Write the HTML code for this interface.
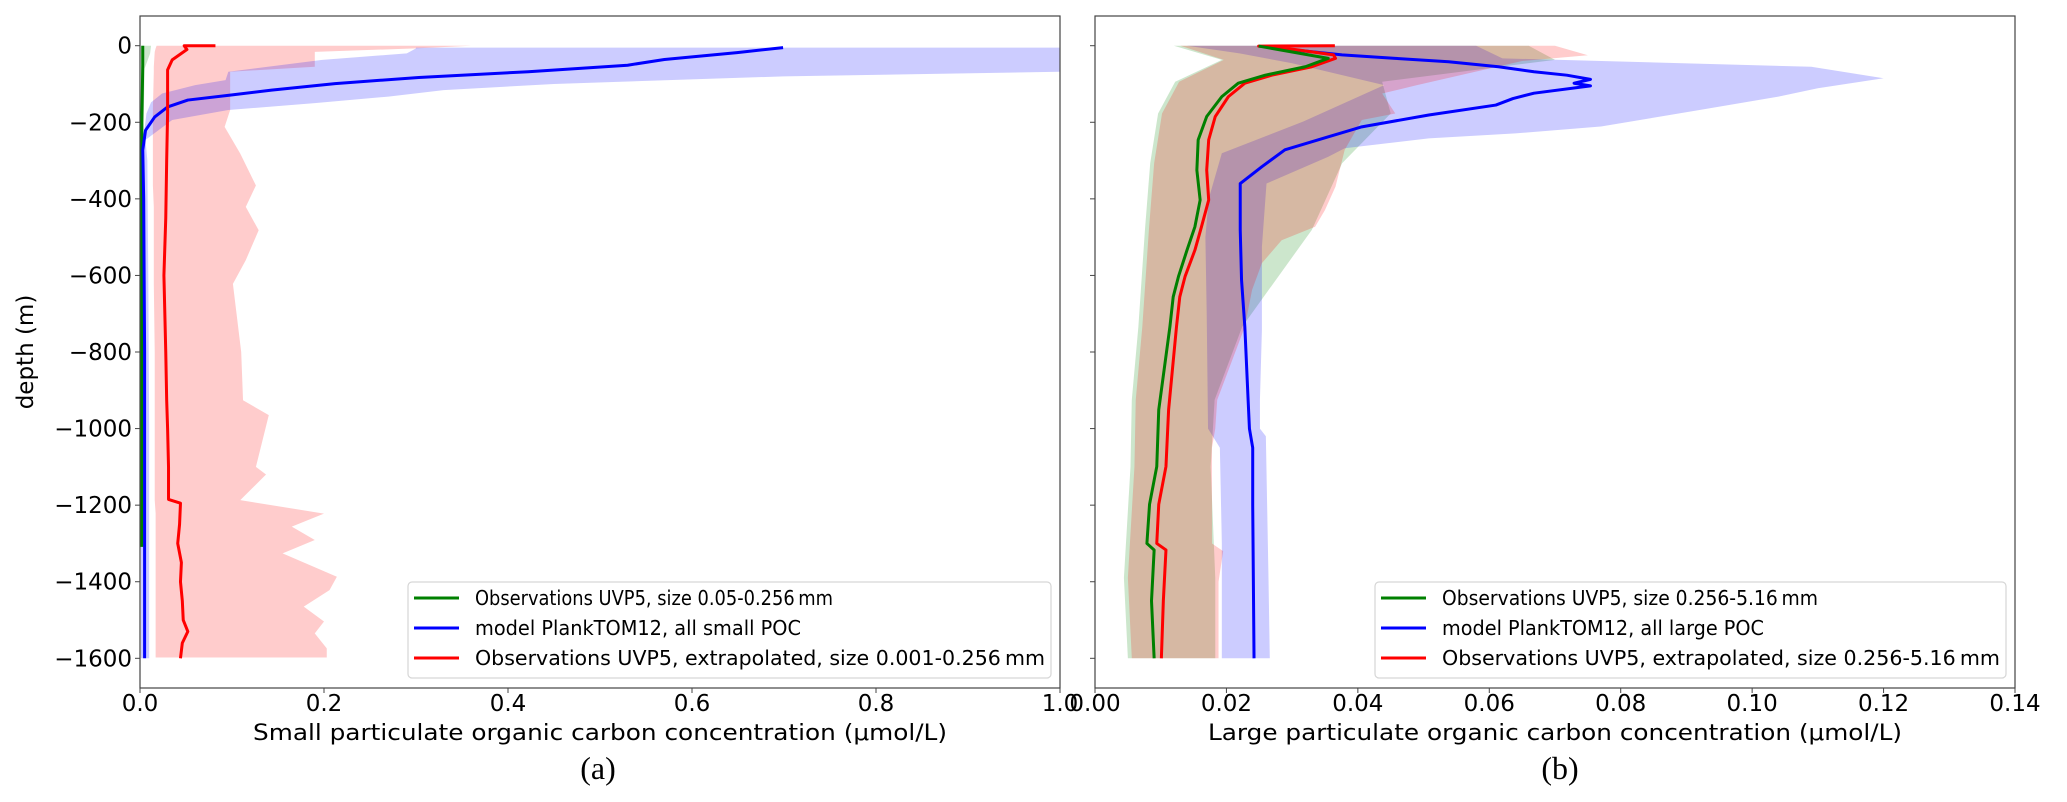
<!DOCTYPE html>
<html><head><meta charset="utf-8"><style>
html,body{margin:0;padding:0;background:#fff;}
svg{display:block;}
text{font-family:"DejaVu Sans","Liberation Sans",sans-serif;fill:#000;}
</style></head><body>
<svg id="fig" width="2067" height="802" viewBox="0 0 2067 802" xmlns="http://www.w3.org/2000/svg">
<defs>
<clipPath id="clipA"><rect x="140" y="16" width="920" height="672"/></clipPath>
<clipPath id="clipB"><rect x="1095" y="16" width="920" height="672"/></clipPath>
</defs>
<g id="panelA"></g>
<g id="panelB"></g>
</svg>
<script>
// ---------- Panel (a) data ----------
const aTicksX = [0.0, 0.2, 0.4, 0.6, 0.8, 1.0];
const aTickLabelsX = ["0.0", "0.2", "0.4", "0.6", "0.8", "1.0"];
const depthTicks = [0, -200, -400, -600, -800, -1000, -1200, -1400, -1600];
const depthTickLabels = ["0", "\u2212200", "\u2212400", "\u2212600", "\u2212800", "\u22121000", "\u22121200", "\u22121400", "\u22121600"];

const aGreenDepth = [0, -50, -200, -600, -1000, -1309];
const aGreenVal = [0.003, 0.003, 0.002, 0.002, 0.002, 0.002];
const aGreenBandDepth = [0, -20, -60, -200, -1309];
const aGreenBandLo = [0.001, 0.001, 0.001, 0.001, 0.001];
const aGreenBandHi = [0.012, 0.011, 0.005, 0.004, 0.003];

const aBlueDepth = [-5, -18, -36, -51, -68, -83, -99, -116, -129, -142, -160, -186, -221, -273, -400, -800, -1200, -1600];
const aBlueVal = [0.699, 0.649, 0.570, 0.530, 0.422, 0.303, 0.212, 0.143, 0.098, 0.052, 0.030, 0.016, 0.006, 0.003, 0.004, 0.005, 0.005, 0.005];
const aBlueBandLoDepth = [-5, -7, -20, -37, -68, -90, -103, -125, -148, -177, -255, -600, -1000, -1600];
const aBlueBandLo = [0.30, 0.30, 0.29, 0.198, 0.096, 0.093, 0.060, 0.024, 0.012, 0.007, 0.003, 0.001, 0.001, 0.001];
const aBlueBandHiDepth = [-5, -55, -68, -80, -100, -116, -133, -150, -168, -194, -246, -300, -600, -1000, -1600];
const aBlueBandHi = [1.40, 1.10, 1.0, 0.70, 0.45, 0.33, 0.27, 0.19, 0.096, 0.035, 0.006, 0.008, 0.009, 0.010, 0.010];

const aRedDepth = [0, 0, -10, -37, -63, -100, -176, -300, -450, -600, -800, -926, -1000, -1100, -1185, -1195, -1250, -1300, -1350, -1400, -1450, -1500, -1530, -1560, -1600];
const aRedVal = [0.082, 0.048, 0.051, 0.035, 0.030, 0.030, 0.030, 0.029, 0.028, 0.026, 0.028, 0.029, 0.030, 0.031, 0.031, 0.044, 0.043, 0.041, 0.045, 0.044, 0.046, 0.047, 0.052, 0.046, 0.044];
const aRedBandDepth = [0, -7, -16, -55, -68, -168, -212, -282, -365, -421, -482, -560, -622, -800, -926, -965, -1100, -1120, -1187, -1222, -1256, -1291, -1326, -1387, -1422, -1465, -1504, -1535, -1574, -1598];
const aRedBandLo = [0.018, 0.017, 0.016, 0.015, 0.015, 0.014, 0.014, 0.014, 0.014, 0.015, 0.015, 0.015, 0.015, 0.016, 0.016, 0.016, 0.016, 0.016, 0.016, 0.017, 0.017, 0.017, 0.017, 0.017, 0.017, 0.017, 0.017, 0.017, 0.017, 0.017];
const aRedBandHi = [0.36, 0.30, 0.19, 0.19, 0.098, 0.098, 0.092, 0.109, 0.126, 0.115, 0.129, 0.115, 0.101, 0.110, 0.112, 0.140, 0.126, 0.137, 0.109, 0.200, 0.165, 0.190, 0.155, 0.214, 0.206, 0.178, 0.200, 0.190, 0.203, 0.203];

// ---------- Panel (b) data ----------
const bTicksX = [0.00, 0.02, 0.04, 0.06, 0.08, 0.10, 0.12, 0.14];
const bTickLabelsX = ["0.00", "0.02", "0.04", "0.06", "0.08", "0.10", "0.12", "0.14"];

const bGreenDepth = [-1, -33, -55, -77, -98, -133, -185, -246, -325, -403, -473, -534, -603, -656, -734, -951, -1099, -1198, -1300, -1317, -1450, -1600];
const bGreenVal = [0.0249, 0.0355, 0.032, 0.0259, 0.0218, 0.0193, 0.017, 0.0157, 0.0155, 0.016, 0.0152, 0.014, 0.0127, 0.0119, 0.0114, 0.0097, 0.0094, 0.0083, 0.0079, 0.009, 0.0086, 0.009];
const bGreenBandDepth = [0, -37, -94, -177, -307, -481, -734, -925, -1100, -1390, -1600];
const bGreenBandLo = [0.012, 0.0193, 0.0122, 0.0096, 0.0084, 0.0076, 0.0066, 0.0056, 0.0054, 0.0044, 0.005];
const bGreenBandHi = [0.066, 0.070, 0.0437, 0.045, 0.0376, 0.0330, 0.0224, 0.0182, 0.0176, 0.0183, 0.0183];

const bRedDepth = [0, -1, -10, -24, -33, -55, -77, -98, -133, -185, -246, -325, -403, -473, -534, -603, -656, -734, -951, -1099, -1198, -1300, -1317, -1450, -1600];
const bRedVal = [0.0365, 0.0249, 0.0304, 0.0363, 0.0366, 0.033, 0.0269, 0.0228, 0.0203, 0.0183, 0.0173, 0.017, 0.0173, 0.0162, 0.0152, 0.0137, 0.0129, 0.0124, 0.0112, 0.0108, 0.0097, 0.0094, 0.0108, 0.0104, 0.0101];
const bRedBandDepth = [0, -37, -94, -177, -307, -481, -734, -925, -1100, -1390, -1600];
const bRedBandLo = [0.013, 0.0196, 0.0128, 0.0102, 0.0090, 0.0082, 0.0072, 0.0062, 0.0060, 0.0050, 0.0056];
const bRedBandHiDepth = [0, -25, -40, -103, -125, -177, -194, -272, -368, -429, -473, -508, -568, -638, -734, -925, -1000, -1050, -1300, -1320, -1400, -1600];
const bRedBandHi = [0.070, 0.075, 0.065, 0.049, 0.0437, 0.0457, 0.0406, 0.038, 0.0366, 0.035, 0.0335, 0.0284, 0.0254, 0.0239, 0.0228, 0.0186, 0.0183, 0.0178, 0.0178, 0.0195, 0.0188, 0.0188];

const bBlueDepth = [-4, -24, -33, -42, -55, -68, -77, -88, -98, -105, -124, -138, -155, -181, -212, -238, -272, -316, -360, -481, -612, -734, -925, -1000, -1050, -1200, -1600];
const bBlueVal = [0.0264, 0.0376, 0.0457, 0.0538, 0.0614, 0.0668, 0.0718, 0.0754, 0.0729, 0.0754, 0.0668, 0.0636, 0.061, 0.0508, 0.0406, 0.0355, 0.0289, 0.0254, 0.0221, 0.0221, 0.0223, 0.0228, 0.0233, 0.0235, 0.0240, 0.0240, 0.0242];
const bBlueBandDepth = [0, -20, -46, -103, -198, -281, -400, -500, -700, -1000, -1050, -1300, -1600];
const bBlueBandLo = [0.014, 0.022, 0.030, 0.044, 0.0317, 0.0193, 0.0173, 0.0168, 0.017, 0.0172, 0.0190, 0.0193, 0.0193];
const bBlueBandHiDepth = [0, -33, -55, -85, -111, -133, -168, -211, -229, -242, -268, -290, -360, -525, -743, -925, -1000, -1020, -1390, -1600];
const bBlueBandHi = [0.058, 0.062, 0.109, 0.120, 0.110, 0.104, 0.092, 0.077, 0.064, 0.0508, 0.038, 0.0355, 0.0261, 0.0254, 0.0254, 0.0251, 0.0251, 0.026, 0.0264, 0.0266];

// ---------- drawing ----------
const NS = "http://www.w3.org/2000/svg";
const Y0 = 45.7, YPX = 0.38288;
function yScale(d){ return Y0 - d*YPX; }
function mk(tag, attrs, parent){
  const el = document.createElementNS(NS, tag);
  for (const k in attrs) el.setAttribute(k, attrs[k]);
  parent.appendChild(el);
  return el;
}
function linePath(depths, vals, xs){
  return depths.map((d,i)=>(i?"L":"M")+xs(vals[i]).toFixed(2)+","+yScale(d).toFixed(2)).join(" ");
}
function bandPath(dLo, lo, dHi, hi, xs){
  let p = dLo.map((d,i)=>(i?"L":"M")+xs(lo[i]).toFixed(2)+","+yScale(d).toFixed(2)).join(" ");
  for (let i=dHi.length-1;i>=0;i--) p += " L"+xs(hi[i]).toFixed(2)+","+yScale(dHi[i]).toFixed(2);
  return p+" Z";
}

function drawPanel(g, cfg){
  const L = cfg.left, R = cfg.right, T = 16, B = 688;
  const xs = v => L + (v - cfg.xmin)/(cfg.xmax - cfg.xmin)*(R-L);
  const plot = mk("g", {"clip-path":"url(#"+cfg.clip+")"}, g);
  
  
  cfg.bands.forEach(b=>{
    const p = mk("path", {d: bandPath(b.dLo, b.lo, b.dHi, b.hi, xs), fill: b.fill, stroke: "none"}, plot);
    
    
  });
  cfg.lines.forEach(s=>{
    const p = mk("path", {d: linePath(s.d, s.v, xs), fill:"none", stroke: s.color, "stroke-width": 3, "stroke-linejoin":"round"}, plot);
    
    
  });
  const fr = mk("rect", {x:L, y:T, width:R-L, height:B-T, fill:"none", stroke:"#444", "stroke-width":1.2}, g);
  
  
  const xt = mk("g", {}, g);
  
  
  cfg.ticks.forEach((v,i)=>{
    const x = xs(v);
    mk("line", {x1:x, x2:x, y1:B, y2:B+5, stroke:"#444", "stroke-width":1}, xt);
    const t = mk("text", {x:x, y:711, "text-anchor":"middle", "font-size":23}, xt);
    t.textContent = cfg.tickLabels[i];
    
    
  });
  const yt = mk("g", {}, g);
  
  
  depthTicks.forEach((d,i)=>{
    const y = yScale(d);
    mk("line", {x1:L-5, x2:L, y1:y, y2:y, stroke:"#444", "stroke-width":1}, yt);
    if (cfg.yLabels){
      const t = mk("text", {x:L-8, y:y+8, "text-anchor":"end", "font-size":23}, yt);
      t.textContent = depthTickLabels[i];
      
      
    }
  });
  const xl = mk("text", {x:(L+R)/2, y:740, "text-anchor":"middle", "font-size":22, textLength:694, lengthAdjust:"spacingAndGlyphs"}, g);
  xl.textContent = cfg.xTitle;
  
  
  const cap = mk("text", {x:cfg.capX, y:779, "text-anchor":"middle", "font-size":32, style:"font-family:'Liberation Serif',serif"}, g);
  cap.textContent = cfg.caption;
  
  
  const lg = mk("g", {}, g);
  
  
  const lb = mk("rect", {x:cfg.legX, y:582, width:cfg.legW, height:96, rx:4, fill:"#fff", "fill-opacity":0.8, stroke:"#d6d6d6", "stroke-width":1.2}, lg);
  
  
  cfg.legend.forEach((e,i)=>{
    const y = 598 + i*30;
    const ent = mk("g", {}, lg);
    
    
    mk("line", {x1:cfg.legX+6, x2:cfg.legX+51, y1:y, y2:y, stroke:e.color, "stroke-width":3}, ent);
    const t = mk("text", {x:cfg.legX+67, y:y+7, "font-size":20, textLength:e.w, lengthAdjust:"spacingAndGlyphs"}, ent);
    t.textContent = e.label;
  });
}

drawPanel(document.getElementById("panelA"), {
  id:"panel-a", left:140, right:1060, xmin:0, xmax:1.0, clip:"clipA",
  ticks:aTicksX, tickLabels:aTickLabelsX, yLabels:true,
  xTitle:"Small particulate organic carbon concentration (\u03bcmol/L)",
  caption:"(a)", capX:598,
  bands:[
    {name:"red-band-a", dLo:aRedBandDepth, lo:aRedBandLo, dHi:aRedBandDepth, hi:aRedBandHi, fill:"rgba(255,0,0,0.2)"},
    {name:"blue-band-a", dLo:aBlueBandLoDepth, lo:aBlueBandLo, dHi:aBlueBandHiDepth, hi:aBlueBandHi, fill:"rgba(0,0,255,0.2)"},
    {name:"green-band-a", dLo:aGreenBandDepth, lo:aGreenBandLo, dHi:aGreenBandDepth, hi:aGreenBandHi, fill:"rgba(0,128,0,0.2)"}
  ],
  lines:[
    {name:"green-line-a", d:aGreenDepth, v:aGreenVal, color:"#008000"},
    {name:"blue-line-a", d:aBlueDepth, v:aBlueVal, color:"#0000ff"},
    {name:"red-line-a", d:aRedDepth, v:aRedVal, color:"#ff0000"}
  ],
  legX:408, legW:643,
  legend:[
    {label:"Observations UVP5, size 0.05-0.256\u2009mm", color:"#008000", w:358},
    {label:"model PlankTOM12, all small POC", color:"#0000ff", w:326},
    {label:"Observations UVP5, extrapolated, size 0.001-0.256\u2009mm", color:"#ff0000", w:570}
  ]
});

drawPanel(document.getElementById("panelB"), {
  id:"panel-b", left:1095, right:2015, xmin:0, xmax:0.14, clip:"clipB",
  ticks:bTicksX, tickLabels:bTickLabelsX, yLabels:false,
  xTitle:"Large particulate organic carbon concentration (\u03bcmol/L)",
  caption:"(b)", capX:1560,
  bands:[
    {name:"green-band-b", dLo:bGreenBandDepth, lo:bGreenBandLo, dHi:bGreenBandDepth, hi:bGreenBandHi, fill:"rgba(0,128,0,0.2)"},
    {name:"blue-band-b", dLo:bBlueBandDepth, lo:bBlueBandLo, dHi:bBlueBandHiDepth, hi:bBlueBandHi, fill:"rgba(0,0,255,0.2)"},
    {name:"red-band-b", dLo:bRedBandDepth, lo:bRedBandLo, dHi:bRedBandHiDepth, hi:bRedBandHi, fill:"rgba(255,0,0,0.2)"}
  ],
  lines:[
    {name:"blue-line-b", d:bBlueDepth, v:bBlueVal, color:"#0000ff"},
    {name:"red-line-b", d:bRedDepth, v:bRedVal, color:"#ff0000"},
    {name:"green-line-b", d:bGreenDepth, v:bGreenVal, color:"#008000"}
  ],
  legX:1375, legW:631,
  legend:[
    {label:"Observations UVP5, size 0.256-5.16\u2009mm", color:"#008000", w:376},
    {label:"model PlankTOM12, all large POC", color:"#0000ff", w:322},
    {label:"Observations UVP5, extrapolated, size 0.256-5.16\u2009mm", color:"#ff0000", w:558}
  ]
});

const svg = document.getElementById("fig");
const yl = mk("text", {x:0, y:0, transform:"translate(33,352) rotate(-90)", "text-anchor":"middle", "font-size":23}, svg);
yl.textContent = "depth (m)";


</script>
</body></html>
